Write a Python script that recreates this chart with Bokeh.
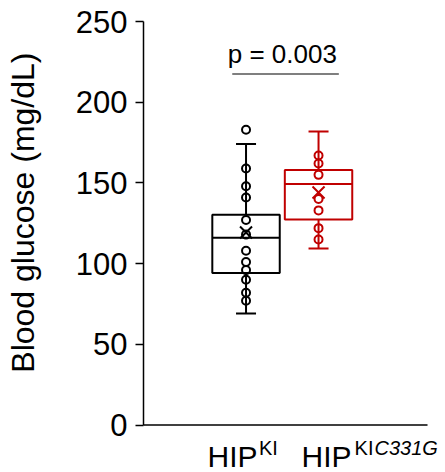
import math
from bokeh.plotting import figure
from bokeh.layouts import row
from bokeh.models import Range1d, FixedTicker, Label, ColumnDataSource
from bokeh.embed import file_html
from bokeh.resources import INLINE

# ---- data ----
groups = ["HIPKI", "HIPKIC331G"]
group_x = [1, 2]
colors = ["#000000", "#C00000"]

ki_values = [183, 159, 148, 141, 127, 118, 108, 101, 96, 90, 82, 77]
kic_values = [167, 162, 155, 140, 133, 122, 115]

q1 = [94.2, 127.4]
median = [116.1, 149.3]
q3 = [130.3, 158.0]
whisker_low = [69.1, 109.4]
whisker_high = [174.1, 181.9]
means = [119.3, 144.1]

y_ticks = [0, 50, 100, 150, 200, 250]
y_title = "Blood glucose (mg/dL)"
p_text = "p = 0.003"

FONT = "Liberation Sans"

# ---- narrow panel holding the y-axis title ----
t = figure(width=45, height=472, output_backend="svg", toolbar_location=None,
           x_range=Range1d(0, 45), y_range=Range1d(0, 472), min_border=0)
t.axis.visible = False
t.grid.visible = False
t.outline_line_color = None
t.add_layout(Label(x=22, y=272, text=y_title, angle=math.pi / 2, text_align="center",
                   text_baseline="alphabetic", text_font=FONT, text_font_size="32px",
                   text_color="black"))

# ---- main plot ----
p = figure(width=400, height=472, output_backend="svg", toolbar_location=None,
           x_range=Range1d(-0.414, 3.751), y_range=Range1d(-29.36, 250),
           min_border_left=98, min_border_right=0, min_border_top=21,
           min_border_bottom=0)
p.outline_line_color = None
p.xgrid.visible = False
p.ygrid.visible = False
p.xaxis.visible = False
p.background_fill_color = "white"
p.border_fill_color = "white"

ya = p.yaxis[0]
ya.bounds = (0, 250)
ya.ticker = FixedTicker(ticks=y_ticks)
ya.major_tick_out = 8
ya.major_tick_in = 0
ya.minor_tick_out = 0
ya.minor_tick_in = 0
ya.axis_line_width = 1.5
ya.axis_line_color = "black"
ya.major_tick_line_width = 1.5
ya.major_tick_line_color = "black"
ya.major_label_text_font = FONT
ya.major_label_text_font_size = "31px"
ya.major_label_text_color = "black"
ya.major_label_standoff = 8

box_w = 0.93
cap_w = 0.276

src = ColumnDataSource(dict(x=group_x, q1=q1, q3=q3, med=median, lo=whisker_low,
                            hi=whisker_high, mean=means, color=colors,
                            left=[x - box_w / 2 for x in group_x],
                            right=[x + box_w / 2 for x in group_x],
                            cl=[x - cap_w / 2 for x in group_x],
                            cr=[x + cap_w / 2 for x in group_x]))

# x baseline (axis line)
p.segment(x0=[-0.414], y0=[0], x1=[3.503], y1=[0], line_color="black", line_width=1.5)

# whiskers
p.segment(x0="x", y0="q3", x1="x", y1="hi", line_color="color", line_width=2, source=src)
p.segment(x0="x", y0="lo", x1="x", y1="q1", line_color="color", line_width=2, source=src)
p.segment(x0="cl", y0="hi", x1="cr", y1="hi", line_color="color", line_width=2, source=src)
p.segment(x0="cl", y0="lo", x1="cr", y1="lo", line_color="color", line_width=2, source=src)
# boxes
p.quad(left="left", right="right", bottom="q1", top="q3", fill_alpha=0,
       line_color="color", line_width=2, source=src)
p.segment(x0="left", y0="med", x1="right", y1="med", line_color="color", line_width=2, source=src)

# points
p.scatter([group_x[0]] * len(ki_values), ki_values, marker="circle", size=8,
          fill_alpha=0, line_color=colors[0], line_width=2)
p.scatter([group_x[1]] * len(kic_values), kic_values, marker="circle", size=8,
          fill_alpha=0, line_color=colors[1], line_width=2)
# means
p.scatter(x="x", y="mean", marker="x", size=17, line_color="color", line_width=2, source=src)

# significance bar
p.segment(x0=[0.81], y0=[217.5], x1=[2.28], y1=[217.5], line_color="#7f7f7f", line_width=2)
p.add_layout(Label(x=1.5, y=229.8, text=p_text, text_align="center",
                   text_baseline="alphabetic", text_font=FONT, text_font_size="26px",
                   text_color="black"))

# x category labels with superscripts
base_y = -19.5
sup_y = -14.3
def add_lab(x, off_main, off_sup, main, sup, sup_it=None, it_off=0):
    p.add_layout(Label(x=x, y=base_y, x_offset=off_main, text=main, text_align="left",
                       text_baseline="alphabetic", text_font=FONT, text_font_size="30px",
                       text_color="black"))
    p.add_layout(Label(x=x, y=sup_y, x_offset=off_sup, text=sup, text_align="left",
                       text_baseline="alphabetic", text_font=FONT, text_font_size="20px",
                       text_color="black"))
    if sup_it:
        p.add_layout(Label(x=x, y=sup_y, x_offset=off_sup + it_off, text=sup_it,
                           text_align="left", text_baseline="alphabetic",
                           text_font=FONT, text_font_size="20px",
                           text_font_style="italic", text_color="black"))

add_lab(group_x[0], -38.5, 13.0, "HIP", "KI")
add_lab(group_x[1], -17.0, 36.0, "HIP", "KI", "C331G", 20)

layout = row(t, p, spacing=0)
open("out.html", "w").write(file_html(layout, INLINE))
